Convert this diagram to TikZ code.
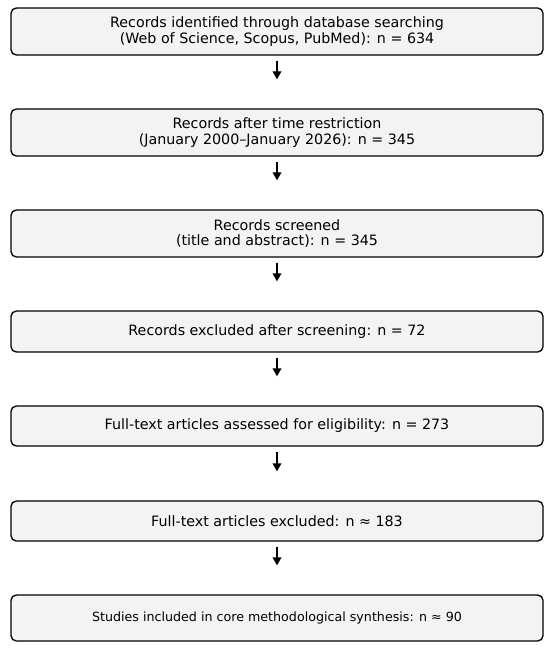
\documentclass[tikz,border=0pt]{standalone}
\usepackage{fontspec}
\setmainfont{DejaVu Sans}
\usepackage{tikz}
\usetikzlibrary{arrows.meta}
\definecolor{boxfill}{HTML}{F3F3F3}

\begin{document}
\begin{tikzpicture}[x=0.75pt,y=-0.75pt,font=\fontsize{10.7pt}{11.4pt}\selectfont,
  stage/.style={draw=black,line width=1pt,fill=boxfill,rounded corners=4pt,minimum width=399pt,align=center,inner sep=0pt},
  flow/.style={-{Triangle[length=6pt,width=6.5pt]},line width=1pt,shorten <=3.75pt,shorten >=21.75pt}]
\useasboundingbox (0,0) rectangle (550,648);
\node[stage,minimum height=35.25pt] (found) at (277,31.5) {Records identified through database searching\\(Web of Science, Scopus, PubMed): n = 634};
\node[stage,minimum height=35.25pt] (timed) at (277,132.5) {Records after time restriction\\(January 2000–January 2026): n = 345};
\node[stage,minimum height=35.25pt] (screen) at (277,233.5) {Records screened\\(title and abstract): n = 345};
\node[stage,minimum height=30.75pt] (dropA) at (277,331.5) {Records excluded after screening: n = 72};
\node[stage,minimum height=30pt] (elig) at (277,426) {Full-text articles assessed for eligibility: n = 273};
\node[stage,minimum height=30pt] (dropB) at (277,521) {Full-text articles excluded: n ≈ 183};
\node[stage,minimum height=34.5pt,font=\fontsize{9.5pt}{11pt}\selectfont] (final) at (277,618) {Studies included in core methodological synthesis: n ≈ 90};
\draw[flow] (found) -- (timed);
\draw[flow] (timed) -- (screen);
\draw[flow] (screen) -- (dropA);
\draw[flow] (dropA) -- (elig);
\draw[flow] (elig) -- (dropB);
\draw[flow] (dropB) -- (final);
\end{tikzpicture}
\end{document}
